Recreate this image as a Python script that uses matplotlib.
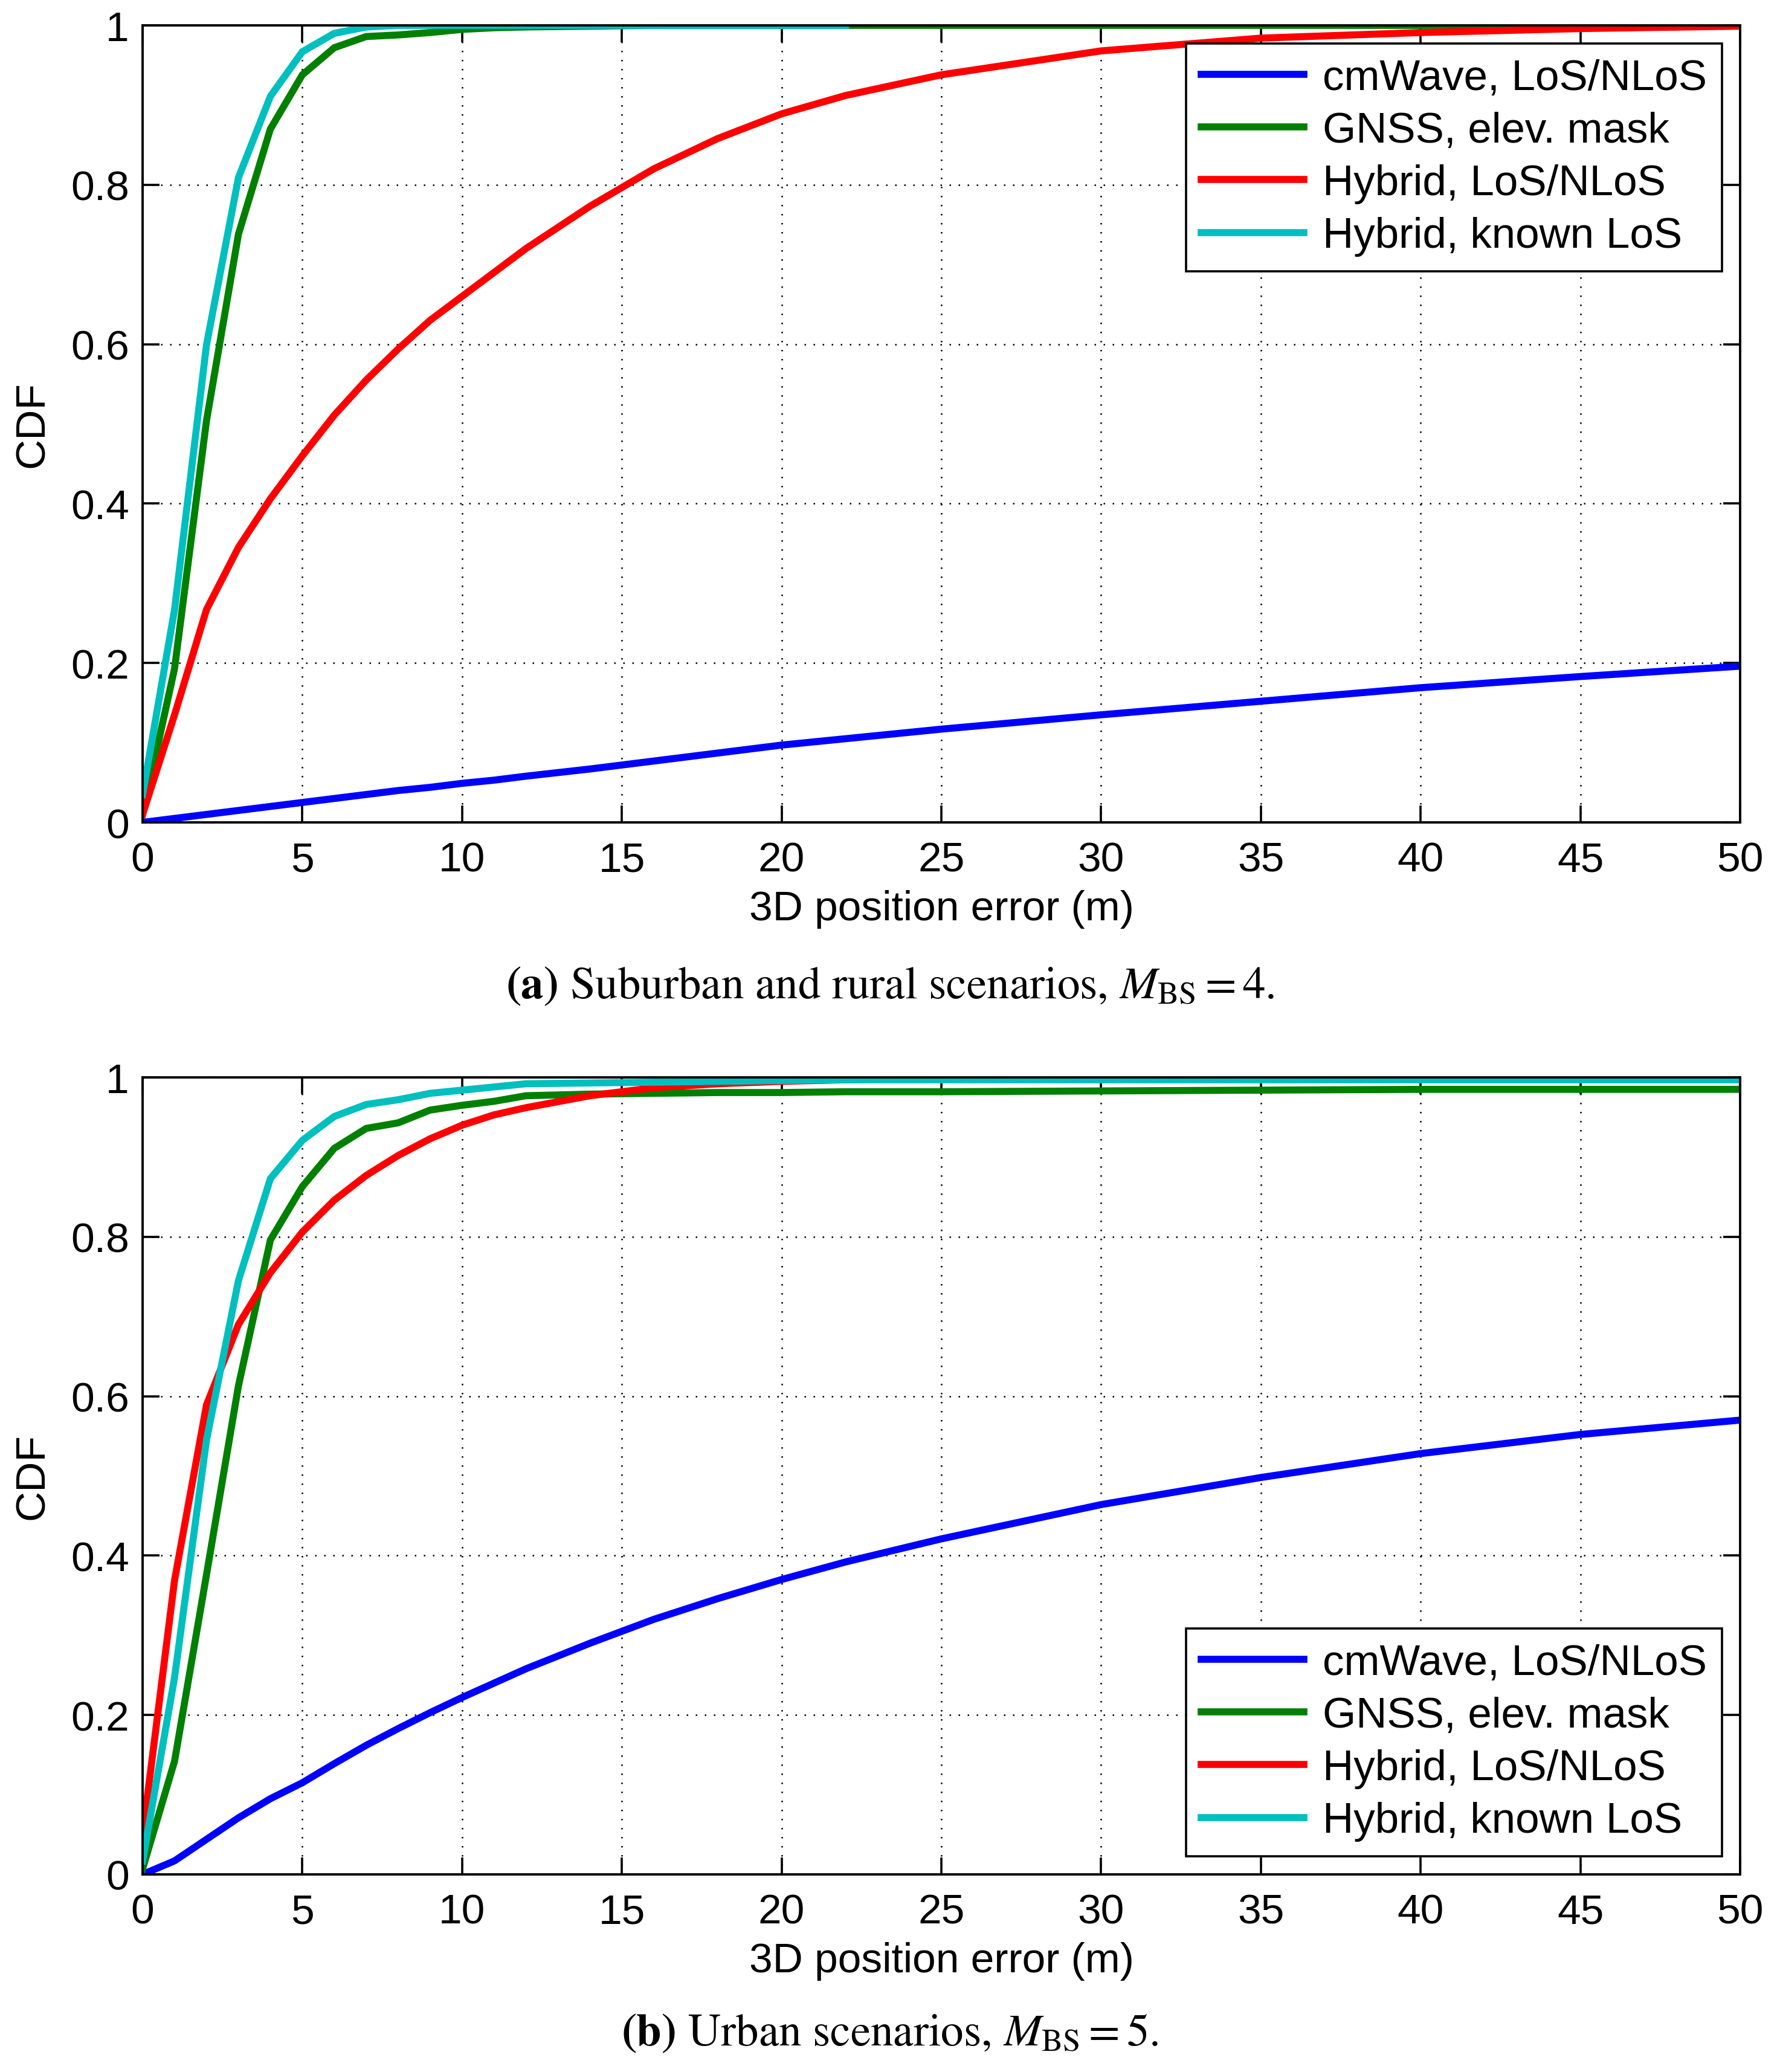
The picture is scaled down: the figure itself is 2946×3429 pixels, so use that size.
import matplotlib
matplotlib.use("Agg")
import matplotlib.pyplot as plt

plt.rcParams["font.family"] = ["Liberation Sans", "DejaVu Sans"]
plt.rcParams["mathtext.fontset"] = "stix"

# 3D position error (m) sample points
err_m = [0, 1, 2, 3, 4, 5, 6, 7, 8, 9, 10, 11, 12, 14, 16, 18, 20, 22, 25, 30, 35, 40, 45, 50]
err_m_short = [0, 1, 2, 3, 4, 5, 6, 7, 8, 9, 10, 11, 12, 14, 16, 18, 20, 22]

labels = ["cmWave, LoS/NLoS", "GNSS, elev. mask", "Hybrid, LoS/NLoS", "Hybrid, known LoS"]
colors = ["#0000ff", "#008000", "#ff0000", "#00bfbf"]

# (a) suburban and rural
cmwave_a = [0.0, 0.005, 0.010, 0.015, 0.020, 0.025, 0.030, 0.035, 0.040, 0.044, 0.049, 0.053,
            0.058, 0.067, 0.077, 0.087, 0.097, 0.105, 0.117, 0.135, 0.152, 0.169, 0.183, 0.196]
gnss_a = [0.010, 0.193, 0.504, 0.738, 0.870, 0.938, 0.972, 0.986, 0.988, 0.991, 0.995, 0.997,
          0.998, 0.999, 1.0, 1.0, 1.0, 1.0, 1.0, 1.0, 1.0, 1.0, 1.0, 1.0]
hyb_a = [0.010, 0.135, 0.267, 0.345, 0.406, 0.460, 0.511, 0.555, 0.594, 0.630, 0.660, 0.690,
         0.720, 0.773, 0.820, 0.858, 0.889, 0.912, 0.938, 0.968, 0.984, 0.991, 0.996, 0.999]
hyb_los_a = [0.035, 0.267, 0.599, 0.809, 0.911, 0.967, 0.990, 0.998, 1.0, 1.0, 1.0, 1.0,
             1.0, 1.0, 1.0, 1.0, 1.0, 1.0]

# (b) urban
cmwave_b = [0.0, 0.017, 0.044, 0.071, 0.095, 0.115, 0.139, 0.162, 0.183, 0.203, 0.222, 0.240,
            0.258, 0.290, 0.320, 0.346, 0.370, 0.392, 0.421, 0.464, 0.498, 0.528, 0.552, 0.570]
gnss_b = [0.007, 0.142, 0.376, 0.613, 0.796, 0.863, 0.911, 0.936, 0.943, 0.959, 0.965, 0.970,
          0.977, 0.979, 0.980, 0.981, 0.981, 0.982, 0.982, 0.983, 0.984, 0.985, 0.985, 0.985]
hyb_b = [0.050, 0.369, 0.589, 0.690, 0.755, 0.806, 0.846, 0.877, 0.902, 0.923, 0.940, 0.953,
         0.962, 0.977, 0.987, 0.992, 0.995, 0.997, 0.999, 1.0, 1.0, 1.0, 1.0, 1.0]
hyb_los_b = [0.017, 0.247, 0.545, 0.745, 0.873, 0.921, 0.951, 0.966, 0.972, 0.980, 0.984, 0.988,
             0.992, 0.993, 0.994, 0.995, 0.996, 0.997, 0.997, 0.997, 0.997, 0.997, 0.997, 0.997]

captions = [r"$\mathbf{(a)}$ Suburban and rural scenarios, $M_{\mathrm{BS}} = 4$.",
            r"$\mathbf{(b)}$ Urban scenarios, $M_{\mathrm{BS}} = 5$."]

W, H = 2946, 3430
fig = plt.figure(figsize=(W / 200, H / 200), dpi=200)


def panel(rect, series, legend_loc, caption, cap_y):
  ax = fig.add_axes(rect)
  for (xs, ys), c, lab in zip(series, colors, labels):
    ax.plot(xs, ys, color=c, linewidth=4.2, label=lab, solid_joinstyle="miter")
  ax.set_xlim(0, 50)
  ax.set_ylim(0, 1)
  ax.set_xticks(range(0, 51, 5))
  ax.set_yticks([0, 0.2, 0.4, 0.6, 0.8, 1])
  ax.set_yticklabels(["0", "0.2", "0.4", "0.6", "0.8", "1"])
  ax.grid(True, color="black", linestyle=(0, (1, 5)), linewidth=0.9)
  ax.tick_params(direction="in", top=True, right=True, length=10, width=1.3,
                 labelsize=25, pad=8)
  ax.tick_params(axis="x", pad=11)
  for s in ax.spines.values():
    s.set_linewidth(1.4)
  ax.set_xlabel("3D position error (m)", fontsize=25, labelpad=6)
  ax.set_ylabel("CDF", fontsize=25, labelpad=11)
  leg = ax.legend(loc=legend_loc, fontsize=25.5, fancybox=False, framealpha=1,
                  edgecolor="black", handlelength=2.4, labelspacing=0.3,
                  borderaxespad=0.42, handletextpad=0.45, borderpad=0.35)
  leg.get_frame().set_linewidth(1.3)
  fig.text(0.5, cap_y, caption, ha="center", va="center", fontsize=27,
           family="STIXGeneral")
  return ax


left = 236 / W
width = (2880 - 236) / W
panel([left, 1 - 1362 / H, width, (1362 - 43) / H],
      [(err_m, cmwave_a), (err_m, gnss_a), (err_m, hyb_a), (err_m_short, hyb_los_a)],
      "upper right", captions[0], 1 - 1634 / H)
panel([left, 1 - 3103 / H, width, (3103 - 1784) / H],
      [(err_m, cmwave_b), (err_m, gnss_b), (err_m, hyb_b), (err_m, hyb_los_b)],
      "lower right", captions[1], 1 - 3367 / H)

fig.savefig("out.png", dpi=200)
